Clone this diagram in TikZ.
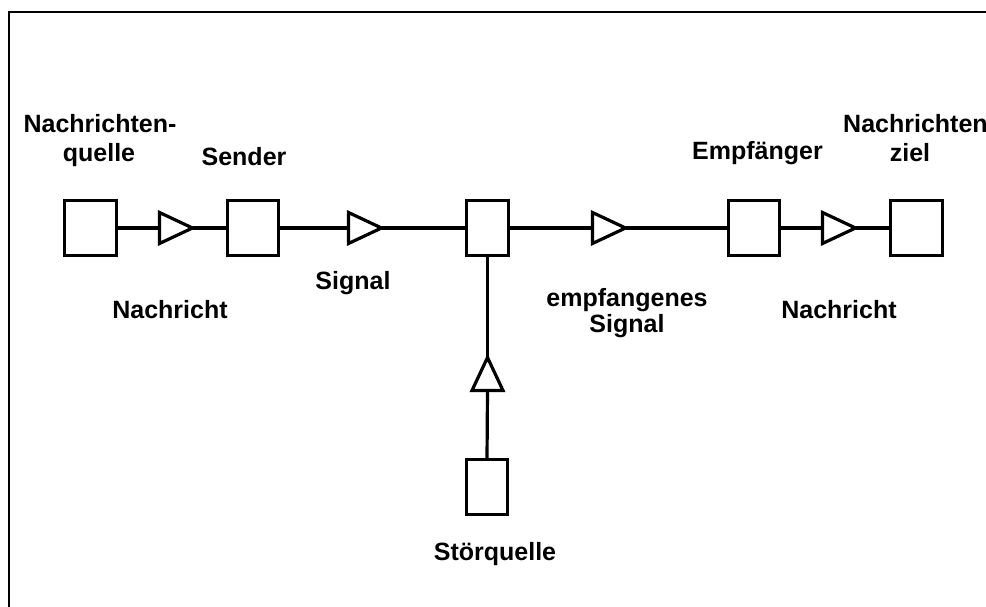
\documentclass[tikz,border=0pt]{standalone}
\usepackage{fontspec}
\setmainfont{Liberation Sans}
\usetikzlibrary{shapes.geometric}
\begin{document}
\begin{tikzpicture}[x=1pt,y=-1pt,
  blk/.style={draw,line width=3.2pt,minimum height=55pt,inner sep=0pt,outer sep=0pt},
  amp/.style={draw,line width=3.2pt,isosceles triangle,isosceles triangle stretches=true,
    minimum width=31pt,minimum height=33pt,inner sep=0pt,outer sep=0pt,anchor=lower side},
  conn/.style={line width=3.2pt},
  lbl/.style={font=\fontsize{25}{29}\selectfont\bfseries,anchor=base,inner sep=0pt}]
\useasboundingbox (0,0) rectangle (986,607);
\draw[line width=2.6pt] (9,620) -- (9,12) -- (1000,12);
% boxes
\node[blk,minimum width=52pt] (b1) at (90.5,228) {};
\node[blk,minimum width=51pt] (b2) at (253,228) {};
\node[blk,minimum width=42pt] (b3) at (487.5,228) {};
\node[blk,minimum width=51pt] (b4) at (754,228) {};
\node[blk,minimum width=52pt] (b5) at (916.5,228) {};
\node[blk,minimum width=41pt] (b6) at (487,487) {};
% amplifiers
\node[amp] (t1) at (159.5,228) {};
\node[amp] (t2) at (348.5,228) {};
\node[amp] (t3) at (592.5,228) {};
\node[amp] (t4) at (822.5,228) {};
\node[amp,rotate=90] (t5) at (487.5,390.5) {};
% connectors
\draw[conn] (b1.east) -- (t1.lower side);
\draw[conn] (t1.apex) -- (b2.west);
\draw[conn] (b2.east) -- (t2.lower side);
\draw[conn] (t2.apex) -- (b3.west);
\draw[conn] (b3.east) -- (t3.lower side);
\draw[conn] (t3.apex) -- (b4.west);
\draw[conn] (b4.east) -- (t4.lower side);
\draw[conn] (t4.apex) -- (b5.west);
\draw[conn] (b6.north) -- (t5.lower side);
\draw[conn] (t5.apex) -- (b3.south);
% labels
\node[lbl] (l1a) at (100,133) {Nachrichten-};
\node[lbl] (l1b) at (99,162) {quelle};
\node[lbl] (l2) at (244,166) {Sender};
\node[lbl] (l3) at (170,318) {Nachricht};
\node[lbl] (l4) at (353,289) {Signal};
\node[lbl] (l5a) at (627,306) {empfangenes};
\node[lbl] (l5b) at (627,332) {Signal};
\node[lbl] (l6) at (757.5,160) {Empfänger};
\node[lbl,anchor=base west] (l7a) at (843,133) {Nachrichten};
\node[lbl] (l7b) at (910,162) {ziel};
\node[lbl] (l8) at (839,318) {Nachricht};
\node[lbl] (l9) at (495,560) {Störquelle};
\end{tikzpicture}
\end{document}
